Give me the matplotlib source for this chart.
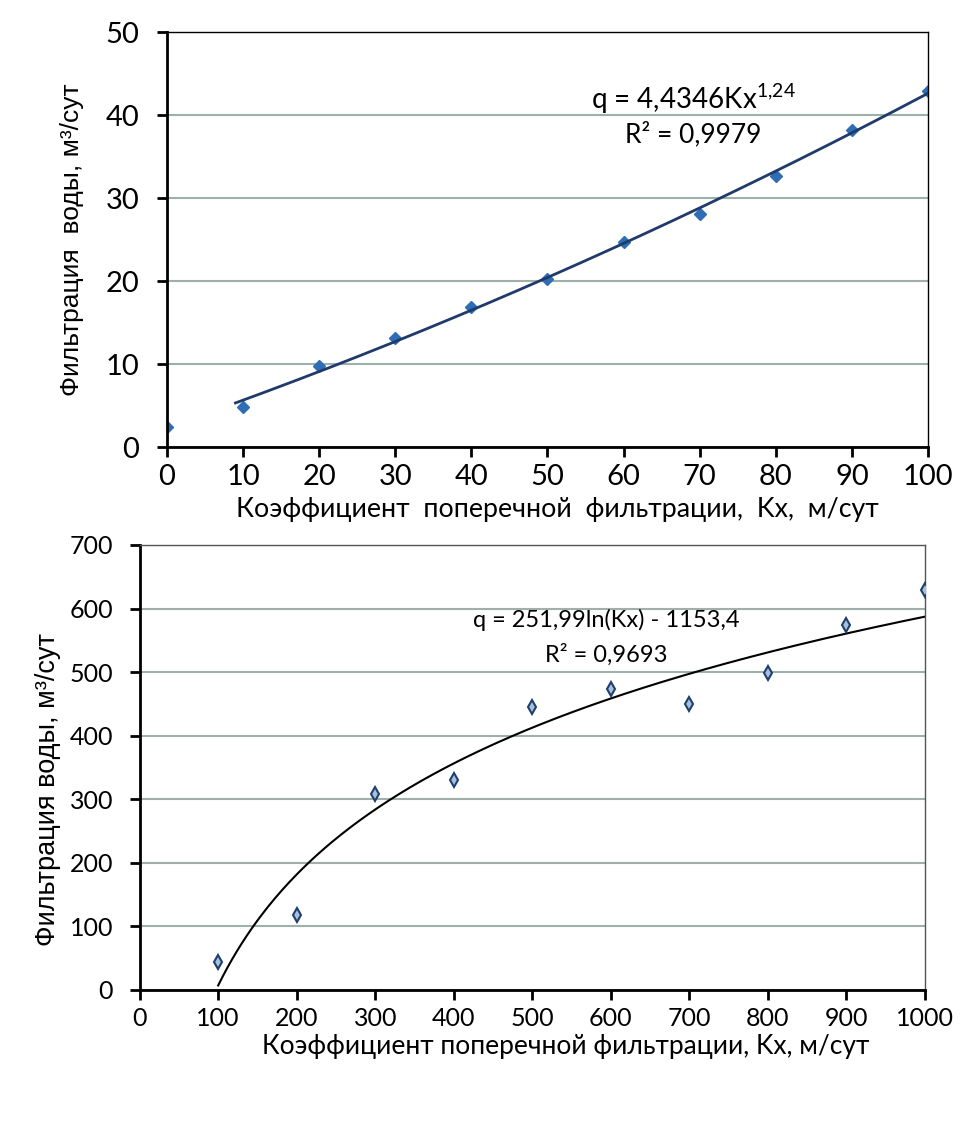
import numpy as np
import matplotlib
matplotlib.use("Agg")
import matplotlib.pyplot as plt

# Верхний график: степенная зависимость
kx_top = [0, 10, 20, 30, 40, 50, 60, 70, 80, 90, 100]
q_top = [2.4, 4.8, 9.8, 13.1, 16.9, 20.2, 24.7, 28.1, 32.7, 38.2, 42.9]
eq_top = r"q = 4,4346Kx$^{\mathregular{1{,}24}}$"
r2_top = "R² = 0,9979"

# Нижний график: логарифмическая зависимость
kx_bot = [100, 200, 300, 400, 500, 600, 700, 800, 900, 1000]
q_bot = [44, 118, 309, 330, 445, 473, 450, 498, 574, 629]
ln_a, ln_b = 251.99, -1153.4
eq_bot = "q = 251,99ln(Kx) - 1153,4"
r2_bot = "R² = 0,9693"

xlabel = "Коэффициент  поперечной  фильтрации,  Kx,  м/сут"
xlabel2 = "Коэффициент поперечной фильтрации, Kx, м/сут"
ylabel1 = "Фильтрация  воды, м³/сут"
ylabel2 = "Фильтрация воды, м³/сут"

tick_font = "Lato"
lab_font = "Liberation Sans"
grid_col = "#9fb0aa"
plt.rcParams["mathtext.fontset"] = "custom"
plt.rcParams["mathtext.rm"] = "Lato"

fig = plt.figure(figsize=(9.69, 11.43), dpi=100)

# ---- верхний
ax1 = fig.add_axes([0.1723, 0.6089, 0.7854, 0.3631])
x = np.array(kx_top[1:], float)
y = np.array(q_top[1:], float)
coef = np.polyfit(x, y, 2)
xf = np.linspace(9, 100, 200)
ax1.plot(xf, np.polyval(coef, xf), color="#1f3a6b", lw=2, zorder=3)
ax1.plot(kx_top, q_top, "D", color="#2f6db5", ms=6.5, zorder=2, clip_on=True)
ax1.set_xlim(0, 100)
ax1.set_ylim(0, 50)
ax1.set_xticks(range(0, 101, 10))
ax1.set_yticks(range(0, 51, 10))
ax1.yaxis.grid(True, color=grid_col, lw=1.5)
ax1.set_axisbelow(True)
for s in ["left", "bottom"]:
    ax1.spines[s].set_linewidth(2)
for s in ["top", "right"]:
    ax1.spines[s].set_linewidth(1)
ax1.tick_params(direction="out", length=7, width=2, labelsize=21)
ax1.tick_params(axis="x", pad=5)
ax1.tick_params(axis="y", pad=13)
for t in ax1.get_xticklabels() + ax1.get_yticklabels():
    t.set_family(tick_font)
ax1.set_xlabel(xlabel, family=tick_font, fontsize=19.3)
ax1.xaxis.set_label_coords(0.513, -0.12)
ax1.set_ylabel(ylabel1, family=lab_font, fontsize=19)
ax1.yaxis.set_label_coords(-0.109, 0.5)
ax1.text(69.2, 42.0, eq_top, family=tick_font, fontsize=20, ha="center", va="center")
ax1.text(69.2, 37.6, r2_top, family=tick_font, fontsize=19, ha="center", va="center")

# ---- нижний
ax2 = fig.add_axes([0.1441, 0.1339, 0.8105, 0.3893])
xf2 = np.linspace(100, 1000, 300)
ax2.plot(xf2, ln_a * np.log(xf2) + ln_b, color="black", lw=1.5, zorder=3)
ax2.plot(kx_bot, q_bot, "d", mfc="#a9c0dc", mec="#1f3f6f", mew=1.5, ms=7, zorder=4)
ax2.set_xlim(0, 1000)
ax2.set_ylim(0, 700)
ax2.set_xticks(range(0, 1001, 100))
ax2.set_yticks(range(0, 701, 100))
ax2.yaxis.grid(True, color=grid_col, lw=1.5)
ax2.set_axisbelow(True)
for s in ["left", "bottom"]:
    ax2.spines[s].set_linewidth(2)
for s in ["top", "right"]:
    ax2.spines[s].set_linewidth(1)
    ax2.spines[s].set_color("#555555")
ax2.tick_params(direction="out", length=7, width=2, labelsize=18)
ax2.tick_params(axis="x", pad=5)
ax2.tick_params(axis="y", pad=12)
for t in ax2.get_xticklabels() + ax2.get_yticklabels():
    t.set_family(tick_font)
ax2.set_xlabel(xlabel2, family=tick_font, fontsize=19)
ax2.xaxis.set_label_coords(0.543, -0.1)
ax2.set_ylabel(ylabel2, family=lab_font, fontsize=19.5)
ax2.yaxis.set_label_coords(-0.100, 0.45)
ax2.text(594, 582, eq_bot, family=tick_font, fontsize=17, ha="center", va="center")
ax2.text(594, 527, r2_bot, family=tick_font, fontsize=17, ha="center", va="center")

fig.savefig("out.png", dpi=100)
